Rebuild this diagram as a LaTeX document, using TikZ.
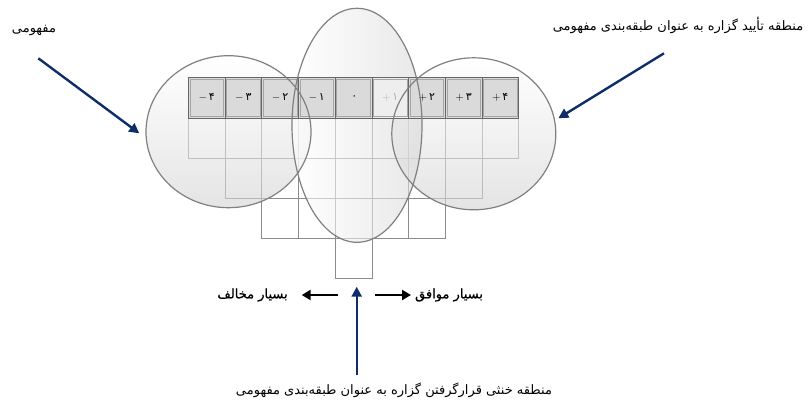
\documentclass[tikz,border=0pt]{standalone}
\usepackage{fontspec}
\newfontfamily\fa[Script=Arabic]{DejaVu Sans}
\newfontfamily\fab[Script=Arabic,FakeBold=0.8]{DejaVu Sans}
\TeXXeTstate=1
\usetikzlibrary{arrows.meta,positioning,shapes.geometric}
\definecolor{qnavy}{HTML}{102D6B}
\definecolor{qhead}{HTML}{DADADA}

\begin{document}
\begin{tikzpicture}[
    x = 1pt, y = -1pt,
    every node/.style = {font = \fa\fontsize{11}{13}\selectfont},
    headcell/.style = {draw = gray!80!black, fill = qhead, line width = 0.6pt,
        minimum width = 36.7pt, minimum height = 40.1pt, inner sep = 0pt,
        path picture = {\draw[gray!70, line width = 0.5pt]
            ([shift = {(1.6pt,1.6pt)}]path picture bounding box.south west) rectangle
            ([shift = {(-1.6pt,-1.6pt)}]path picture bounding box.north east);}},
    bodycell/.style = {draw = gray!90, line width = 0.6pt,
        minimum width = 36.7pt, minimum height = 40.1pt, inner sep = 0pt},
    zonefill/.style = {ellipse, inner sep = 0pt, fill opacity = 0.6},
    zoneline/.style = {draw = gray, line width = 1.2pt},
    navyarrow/.style = {draw = qnavy, line width = 2.4pt,
        -{Triangle[length = 10pt, width = 10pt]}},
    blackarrow/.style = {draw = black, line width = 2.6pt,
        -{Triangle[length = 9pt, width = 10pt]}},
    label/.style = {inner sep = 0pt, font = \fa\fontsize{13}{15}\selectfont}]

\useasboundingbox (0,0) rectangle (811,410);

% body cells of the forced distribution
\foreach \h [count = \i] in {1,2,3,3,4,3,3,2,1}
  \foreach \r in {1,...,\h}
    \node[bodycell] (c\i-\r) at ({188.3+(\i-0.5)*36.7},{97.75+\r*40.1}) {};

% zones
\node[zonefill, minimum width = 165pt, minimum height = 152pt,
      top color = white, bottom color = gray!35] (negzone) at (228.5,131.7) {};
\node[zonefill, minimum width = 164pt, minimum height = 152pt,
      top color = white, bottom color = gray!35] (poszone) at (473.8,133.8) {};
\node[zonefill, minimum width = 130pt, minimum height = 234pt,
      left color = white, right color = gray!30] (neutzone) at (357,125.3) {};

% header row
\foreach \sg/\dg/\tc/\fc [count = \i] in {-/۴/black/qhead, -/۳/black/qhead,
    -/۲/black/qhead, -/۱/black/qhead, /۰/black/qhead, +/۱/gray!60/qhead!45,
    +/۲/black/qhead, +/۳/black/qhead, +/۴/black/qhead}
  \node[headcell, fill = \fc, text = \tc] (h\i) at ({188.3+(\i-0.5)*36.7},97.75)
      {$\sg$\,\fa\dg};

% zone outlines
\draw[zoneline] (negzone.center) ellipse [x radius = 82.5pt, y radius = 76pt];
\draw[zoneline] (poszone.center) ellipse [x radius = 82pt, y radius = 76pt];
\draw[zoneline] (neutzone.center) ellipse [x radius = 65pt, y radius = 117pt];

% labels
\node[label] (neglabel) at (34,30) {\fa\beginR مفهومی\endR};
\node[label] (poslabel) at (678,25) {\fa\beginR منطقه تأیید گزاره به عنوان طبقه‌بندی مفهومی\endR};
\node[label] (neutlabel) at (394,390) {\fa\beginR منطقه خنثی قرارگرفتن گزاره به عنوان طبقه‌بندی مفهومی\endR};
\node[label] (disagree) at (252.5,295) {\fab\beginR بسیار مخالف\endR};
\node[label] (agree) at (449,295) {\fab\beginR بسیار موافق\endR};

% arrows
\coordinate (negtail) at (38.3,58.3);
\coordinate (negtip) at (139.3,133.3);
\coordinate (postail) at (664,53.3);
\coordinate (postip) at (558.3,118.3);
\coordinate (neuttail) at (356.7,375);
\coordinate (neuttip) at (356.7,286.7);
\coordinate (lstart) at (338,295);
\coordinate (ltip) at (301.7,295);
\coordinate (rstart) at (375,295);
\coordinate (rtip) at (411,295);
\draw[navyarrow] (negtail) -- (negtip);
\draw[navyarrow] (postail) -- (postip);
\draw[navyarrow] (neuttail) -- (neuttip);
\draw[blackarrow] (lstart) -- (ltip);
\draw[blackarrow] (rstart) -- (rtip);
\end{tikzpicture}
\end{document}
